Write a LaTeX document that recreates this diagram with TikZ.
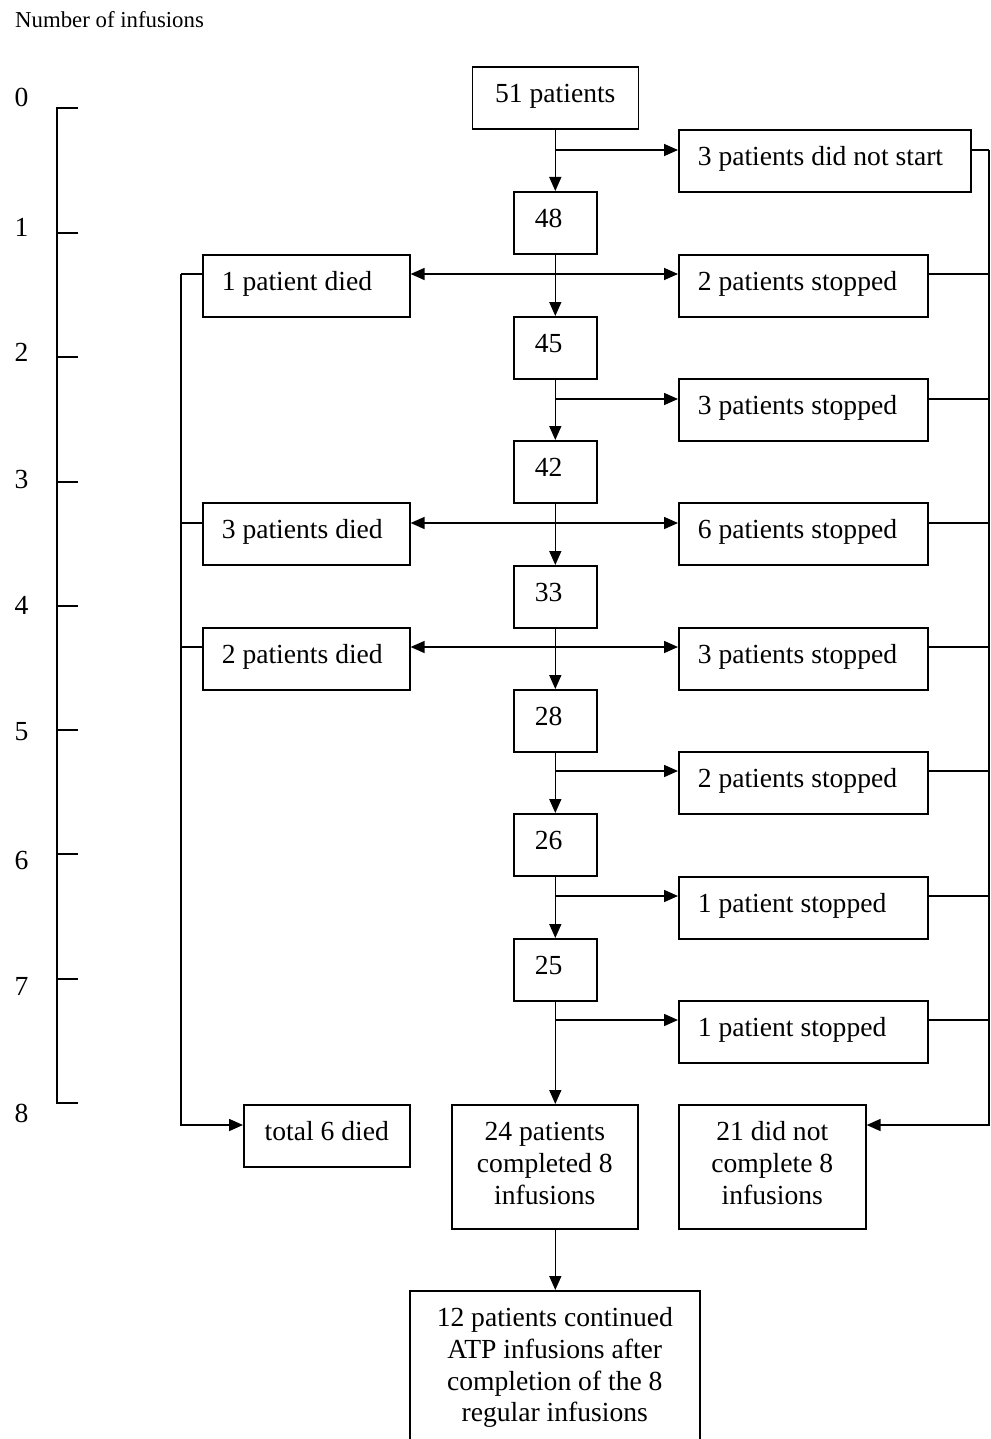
\documentclass[tikz,border=0pt]{standalone}
\usepackage{fontspec}
\setmainfont{Liberation Serif}
\usetikzlibrary{arrows.meta,calc}
\begin{document}
\begin{tikzpicture}[x=1pt,y=-1pt,
  every node/.style={font=\fontsize{27.6}{31.6}\selectfont},
  box/.style={draw, line width=1.6pt, anchor=north west, inner ysep=0pt, text height=36pt, text depth=26pt},
  lbox/.style={box, align=flush left, inner xsep=19pt},
  sbox/.style={lbox, text width=211pt},
  dbox/.style={lbox, text width=169pt},
  nbox/.style={box, align=flush left, inner xsep=21pt, text width=41pt},
  cbox/.style={box, align=flush center, inner xsep=4pt},
  ln/.style={line width=1.6pt},
  arr/.style={ln, -{Triangle[length=14pt,width=12pt]}},
  arr2/.style={ln, {Triangle[length=14pt,width=12pt]}-{Triangle[length=14pt,width=12pt]}}]
\useasboundingbox (0,0) rectangle (990,1439);

% title and axis
\node[anchor=base west, inner sep=0pt, font=\fontsize{22.8}{26}\selectfont] (title) at (15,28) {Number of infusions};
\draw[ln] (78,108) -- (57,108) -- (57,1103) -- (78,1103);
\foreach \y in {233,357,482,606,730,854,979} \draw[ln] (57,\y) -- (78,\y);
\foreach \n/\y in {0/97,1/227,2/352,3/479,4/605,5/732,6/860,7/986,8/1113}
  \node (ax\n) at (21.5,\y) {\n};

% centre column
\node[cbox, text width=158pt] (p51) at (471.5,66) {51 patients};
\node[nbox] (n48) at (513,191) {48};
\node[nbox] (n45) at (513,316) {45};
\node[nbox] (n42) at (513,440) {42};
\node[nbox] (n33) at (513,565) {33};
\node[nbox] (n28) at (513,689) {28};
\node[nbox] (n26) at (513,813) {26};
\node[nbox] (n25) at (513,938) {25};

% right column
\node[lbox, text width=254pt] (ns) at (678,129) {3 patients did not start};
\node[sbox] (s2a) at (678,254) {2 patients stopped};
\node[sbox] (s3a) at (678,378) {3 patients stopped};
\node[sbox] (s6) at (678,502) {6 patients stopped};
\node[sbox] (s3b) at (678,627) {3 patients stopped};
\node[sbox] (s2b) at (678,751) {2 patients stopped};
\node[sbox] (s1a) at (678,876) {1 patient stopped};
\node[sbox] (s1b) at (678,1000) {1 patient stopped};

% left column
\node[dbox] (d1) at (202,254) {1 patient died};
\node[dbox] (d3) at (202,502) {3 patients died};
\node[dbox] (d2) at (202,627) {2 patients died};

% bottom
\node[cbox, text width=158pt] (tot) at (243,1104) {total 6 died};
\node[cbox, text width=178pt, text depth=88pt] (c24) at (451,1104) {24 patients\\completed 8\\infusions};
\node[cbox, text width=179pt, text depth=88pt] (nc21) at (678,1104) {21 did not\\complete 8\\infusions};
\node[cbox, text width=282pt, text depth=124pt] (c12) at (409,1290) {12 patients continued\\ATP infusions after\\completion of the 8\\regular infusions};

% row coordinates
\coordinate (R) at (989,0);
\coordinate (L) at (181,0);
\coordinate (r1) at ($(ns.north west)+(0,21)$);
\coordinate (r2) at ($(s2a.north west)+(0,20)$);
\coordinate (r3) at ($(s3a.north west)+(0,21)$);
\coordinate (r4) at ($(s6.north west)+(0,21)$);
\coordinate (r5) at ($(s3b.north west)+(0,20)$);
\coordinate (r6) at ($(s2b.north west)+(0,20)$);
\coordinate (r7) at ($(s1a.north west)+(0,20)$);
\coordinate (r8) at ($(s1b.north west)+(0,20)$);
\coordinate (rb) at ($(nc21.north east)+(0,21)$);
\coordinate (rt) at ($(tot.north west)+(0,21)$);

% centre arrows
\draw[arr] (p51) -- (n48);
\draw[arr] (n48) -- (n45);
\draw[arr] (n45) -- (n42);
\draw[arr] (n42) -- (n33);
\draw[arr] (n33) -- (n28);
\draw[arr] (n28) -- (n26);
\draw[arr] (n26) -- (n25);
\draw[arr] (n25) -- (n25 |- c24.north);
\draw[arr] (n25 |- c24.south) -- (n25 |- c12.north);

% branch arrows
\draw[arr] (r1 -| n48) -- (r1);
\draw[arr2] (d1.east |- r2) -- (r2);
\draw[arr] (r3 -| n45) -- (r3);
\draw[arr2] (d3.east |- r4) -- (r4);
\draw[arr2] (d2.east |- r5) -- (r5);
\draw[arr] (r6 -| n28) -- (r6);
\draw[arr] (r7 -| n26) -- (r7);
\draw[arr] (r8 -| n25) -- (r8);

% right collector
\foreach \b/\r in {ns/r1, s2a/r2, s3a/r3, s6/r4, s3b/r5, s2b/r6, s1a/r7, s1b/r8}
  \draw[ln] (\b.east |- \r) -- (\r -| R);
\draw[arr] (r1 -| R) -- (rb -| R) -- (rb);

% left collector
\foreach \b/\r in {d1/r2, d3/r4, d2/r5}
  \draw[ln] (\b.west |- \r) -- (\r -| L);
\draw[arr] (r2 -| L) -- (rt -| L) -- (rt);
\end{tikzpicture}
\end{document}
